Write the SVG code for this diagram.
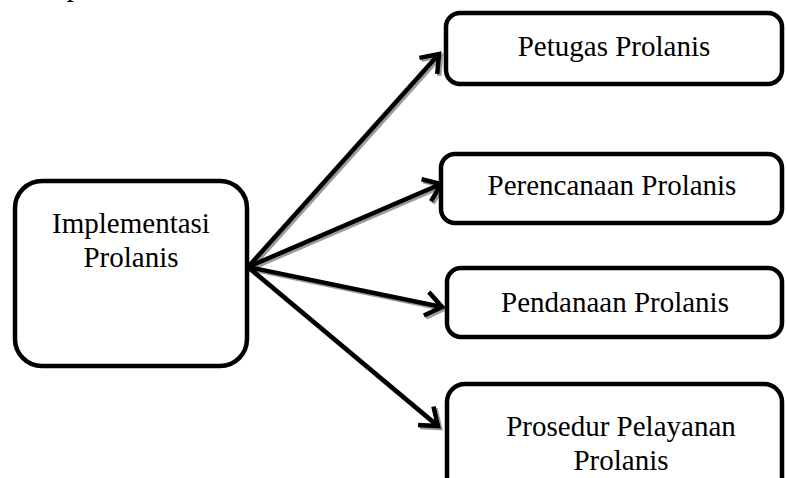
<svg xmlns="http://www.w3.org/2000/svg" width="786" height="478" viewBox="0 0 786 478">
<style>
.box{fill:#fff;stroke:#000;stroke-width:4.5}
.t{font-family:"Liberation Serif","Times New Roman",serif;font-size:29px;fill:#000;text-anchor:middle}
.ln{stroke:#000;stroke-width:4.5;fill:none}
.sh{stroke:#9a9a9a;stroke-width:4.5;fill:none}
</style>
<defs>
<marker id="ah" markerUnits="userSpaceOnUse" viewBox="-20 -14 24 28" refX="0" refY="0" markerWidth="24" markerHeight="28" orient="auto" overflow="visible">
<path d="M-16,-12 L0,0 L-16,12" fill="none" stroke="#000" stroke-width="4.5" stroke-linejoin="miter"/>
</marker>
<marker id="ahs" markerUnits="userSpaceOnUse" viewBox="-20 -14 24 28" refX="0" refY="0" markerWidth="24" markerHeight="28" orient="auto" overflow="visible">
<path d="M-16,-12 L0,0 L-16,12" fill="none" stroke="#9a9a9a" stroke-width="4.5" stroke-linejoin="miter"/>
</marker>
</defs>
<text class="t" x="74" y="-4">p</text>
<g id="connectors">
<g transform="translate(2,2)">
<line class="sh" x1="248" y1="267" x2="439" y2="54" marker-end="url(#ahs)"/>
<line class="sh" x1="248" y1="267" x2="441" y2="184" marker-end="url(#ahs)"/>
<line class="sh" x1="248" y1="267" x2="442" y2="307" marker-end="url(#ahs)"/>
<line class="sh" x1="248" y1="267" x2="438" y2="426" marker-end="url(#ahs)"/>
</g>
<line class="ln" x1="248" y1="267" x2="439" y2="54" marker-end="url(#ah)"/>
<line class="ln" x1="248" y1="267" x2="441" y2="184" marker-end="url(#ah)"/>
<line class="ln" x1="248" y1="267" x2="442" y2="307" marker-end="url(#ah)"/>
<line class="ln" x1="248" y1="267" x2="438" y2="426" marker-end="url(#ah)"/>
</g>
<g id="implementasi">
<rect class="box" x="15" y="181" width="232" height="185" rx="27"/>
<text class="t" x="131" y="233">Implementasi</text>
<text class="t" x="131" y="267">Prolanis</text>
</g>
<g id="petugas">
<rect class="box" x="446" y="13" width="336" height="71" rx="14"/>
<text class="t" x="614" y="56">Petugas Prolanis</text>
</g>
<g id="perencanaan">
<rect class="box" x="441" y="154" width="341" height="69" rx="14"/>
<text class="t" x="612" y="195">Perencanaan Prolanis</text>
</g>
<g id="pendanaan">
<rect class="box" x="447" y="268" width="335" height="69" rx="14"/>
<text class="t" x="615" y="312">Pendanaan Prolanis</text>
</g>
<g id="prosedur">
<rect class="box" x="447" y="384" width="335" height="120" rx="18"/>
<text class="t" x="621" y="436">Prosedur Pelayanan</text>
<text class="t" x="621" y="470">Prolanis</text>
</g>
</svg>
